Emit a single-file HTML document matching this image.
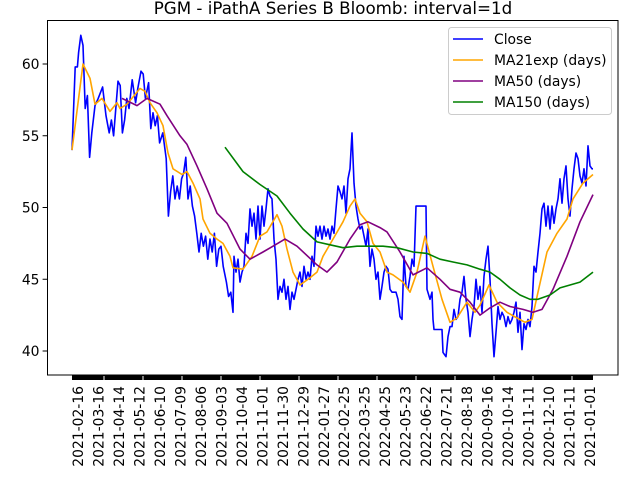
<!DOCTYPE html>
<html><head><meta charset="utf-8"><style>
body{margin:0;background:#fff;}
svg{display:block;font-family:"DejaVu Sans","Liberation Sans",sans-serif;}
</style></head><body>
<svg id="chart" width="640" height="480" viewBox="0 0 640 480"></svg>
<script>
// ---- data ----
const closeT1 = [0,1.6,2.7,3.3,4.4,5.5,6.6,7.7,8.8,9.9,11.5,13.1,15.3,17.0,18.6,19.7,20.8,21.9,23.0,24.1,25.2,26.3,27.4,28.5,30.1,31.8,32.9,34.5,35.6,36.7,38.3,39.4,40.5,41.6,42.7,43.8,45.4,47.1,48.2,49.3,50.4,51.5,52.6,53.7,54.8,55.8,56.9,58.0,59.1,60.2,61.3,62.4,63.5,64.6,65.7,66.8,67.9,69.0,70.1,71.2,72.3,73.4,74.5,75.6,77.2,78.3,79.4,80.5];
const closeV1 = [54.0,59.8,59.8,60.8,62.0,61.3,56.9,57.8,53.5,55.2,57.1,57.6,58.4,56.4,55.2,56.1,55.0,56.9,58.8,58.5,55.2,56.1,57.6,56.9,58.9,57.3,58.3,59.5,59.3,57.6,58.7,55.5,56.6,55.7,56.4,54.5,55.2,53.4,49.4,51.1,52.2,50.6,51.5,50.6,52.0,52.4,53.5,50.6,51.5,50.1,49.4,48.2,46.9,48.2,47.3,48.0,46.4,47.8,46.9,48.2,45.9,47.1,47.3,45.9,44.8,43.8,44.1,42.7];
const closeV2 = [46.6,45.5,46.4,44.8,45.5,45.9,48.2,47.5,49.9,48.7,49.6,47.8,50.1,47.8,50.1,48.7,49.9,51.3,50.8,50.6,47.8,46.4,43.6,44.5,44.1,45.0,43.6,44.5,42.9,44.1,43.6,44.3,45.0,45.5,44.5,45.9,45.0,45.5,45.0,46.6,45.9,48.7,48.0,48.7,47.8,48.7,48.0,48.5,47.8,48.7,48.2,49.9,51.5,51.1,50.6,51.5,49.6,52.0,52.7,55.2,51.7,50.1,49.2,48.5,48.7,48.0,47.3,48.5,45.9,47.1,46.4,45.0,45.5,43.6,44.5,45.5,45.9,45.7,44.3,44.1];
const closeT3 = [162,163,164,165,166,167,168,169,170,171,172,177,177.5,179,180,180.5,181,185,185.5,187,188];
const closeV3 = [44.1,43.6,42.4,42.2,46.6,44.5,44.3,45.2,46.4,45.9,50.1,50.1,44.3,43.6,44.1,42.2,41.5,41.5,39.9,39.6,41.0];
const closeV4 = [41.7,41.7,42.9,42.2,42.4,43.6,44.1,45.2,43.6,42.7,41.0,42.2,43.1,45.0,43.6,44.5,42.7,45.2,46.4,47.3,45.0,41.9,39.6,41.3,43.1,42.2,42.7,42.4,41.7,42.4,41.9,42.2,42.7,43.4,41.3,42.7,40.1,41.9,41.5,42.2,41.7,43.1,45.9,45.5,46.9,48.2,49.9,50.3,48.7,50.1,48.5,50.1,48.9,49.9,50.6,52.0,50.3,52.0,52.9,50.6,49.4,51.3,52.7,53.8,53.4,52.2,51.7,52.7,51.5,54.3,52.9,52.7,52.7];
const ma21T = [0,5.5,9,11.5,15,19,22.5,24,27.5,30.5,34,36.5,39,42.5,45.5,48,50.5,55,57.5,60.5,64,65.5,69,72.5,75.5,79,80.5,85.5,90,94,97.5,102.5,105,107.5,110.5,114,119,122.5,125.5,130.5,135.5,139,141.5,144,147.5,150.5,154,157.5,160.5,165.5,169,172.5,176.5,180.5,185,189,192.5,197.5,201.5,204,208.5,212.5,217.5,222.5,226.5,230,233,237.5,242.5,247.5,250.5,255.5,260.5];
const ma21V = [54.0,60.0,59.0,57.2,57.6,56.7,57.3,56.9,57.2,57.7,58.3,58.1,57.3,56.6,55.7,53.8,52.7,52.3,52.5,51.7,50.6,49.2,48.2,47.8,47.5,46.6,45.8,45.7,46.6,48.0,48.3,49.5,48.7,47.1,45.5,44.6,45.1,45.5,46.6,47.8,49.0,50.1,50.6,49.6,49.0,47.5,46.9,45.5,45.3,44.8,44.1,45.5,48.0,45.9,43.6,42.0,42.3,43.4,42.7,43.2,44.6,43.4,42.7,42.3,42.0,42.2,44.1,46.9,48.2,49.2,50.6,51.7,52.3];
const ma50T = [25,32.5,37.5,44,47.5,54,57.5,62.5,67.5,72.5,77.5,84,89,95.5,100.5,106.5,112.5,122.5,127.5,132.5,139,144,148,154,157.5,164,170.5,177.5,184,189,194,199,204,209,214,219,225.5,230.5,235,240.5,247.5,254,260.5];
const ma50V = [57.6,57.1,57.6,57.2,56.4,55.0,54.4,52.9,51.3,49.6,48.9,47.1,46.4,46.9,47.3,47.8,47.3,46.0,45.5,46.2,47.8,48.8,49.0,48.6,48.3,46.9,45.3,45.8,45.0,44.3,44.1,43.4,42.5,43.0,43.4,43.1,42.9,42.7,42.9,44.3,46.6,49.0,50.9];
const ma150T = [76.5,85.5,94,102.5,109,115.5,122.5,129,135.5,142.5,149,155.5,162.5,170.5,177.5,184,190.5,197.5,204,209,214,219,224,229,233,239,244,249,254,260.5];
const ma150V = [54.2,52.5,51.6,50.8,49.6,48.5,47.6,47.4,47.2,47.3,47.3,47.3,47.2,46.9,46.8,46.4,46.2,46.0,45.7,45.5,45.0,44.4,43.9,43.6,43.6,43.9,44.4,44.6,44.8,45.5];
const yTicks = [40,45,50,55,60];
const xTickLabels = ["2021-02-16","2021-03-16","2021-04-14","2021-05-12","2021-06-10","2021-07-09","2021-08-06","2021-09-03","2021-10-04","2021-11-01","2021-11-30","2021-12-29","2022-01-27","2022-02-25","2022-03-25","2022-04-25","2022-05-23","2022-06-22","2022-07-21","2022-08-18","2020-09-16","2020-10-14","2020-11-11","2020-12-10","2021-01-11","2021-01-01"];
const closeT2 = []; for (let i = 81; i <= 160; i++) closeT2.push(i);
const closeT4 = []; for (let i = 189; i <= 260; i++) closeT4.push(i); closeT4.push(260.5);
const closeT = closeT1.concat(closeT2, closeT3, closeT4);
const closeV = closeV1.concat(closeV2, closeV3, closeV4);

// ---- axes ----
const AX = {l:47.5, r:618, t:20.5, b:375};
const xS = t => 72 + t * 2;
const yS = v => 64 + (60 - v) * 14.35;
const NS = "http://www.w3.org/2000/svg";
const svg = document.getElementById('chart');
function mk(tag, attrs, parent) {
  const e = document.createElementNS(NS, tag);
  for (const k in attrs) e.setAttribute(k, attrs[k]);
  (parent || svg).appendChild(e);
  return e;
}
const title = mk('text', {x: 333, y: 14, 'text-anchor': 'middle', 'font-size': '16.7'});
title.textContent = 'PGM - iPathA Series B Bloomb: interval=1d';



const clip = mk('clipPath', {id: 'plotclip'});
mk('rect', {x: AX.l, y: AX.t, width: AX.r - AX.l, height: AX.b - AX.t}, clip);

function line(T, V, color, name) {
  let d = '';
  for (let i = 0; i < T.length; i++) d += (i ? 'L' : 'M') + xS(T[i]).toFixed(1) + ' ' + yS(V[i]).toFixed(1);
  const p = mk('path', {d: d, fill: 'none', stroke: color, 'stroke-width': 1.6, 'stroke-linejoin': 'round', 'clip-path': 'url(#plotclip)'});
  
  
}
line(closeT, closeV, '#0000ff', 'close-line');
line(ma21T, ma21V, '#ffa500', 'ma21exp-line');
line(ma50T, ma50V, '#800080', 'ma50-line');
line(ma150T, ma150V, '#008000', 'ma150-line');

const frame = mk('rect', {x: AX.l, y: AX.t, width: AX.r - AX.l, height: AX.b - AX.t, fill: 'none', stroke: '#000', 'stroke-width': 1});



// y ticks
yTicks.forEach(v => {
  const y = yS(v);
  const tk = mk('line', {x1: AX.l - 4.9, x2: AX.l, y1: y, y2: y, stroke: '#000', 'stroke-width': 1});
  
  
  const tx = mk('text', {x: AX.l - 8, y: y + 5, 'text-anchor': 'end', 'font-size': '13.9'});
  tx.textContent = v;
  
  
});

// dense x tick bar
const bar = mk('rect', {x: xS(0), y: AX.b, width: xS(260.5) - xS(0), height: 5, fill: '#000'});


for (let i = 0; i < 13; i++) {
  const gx = 104 + i * 39;
  mk('line', {x1: gx, x2: gx, y1: AX.b + 1, y2: AX.b + 5, stroke: '#fff', 'stroke-width': 1});
}
xTickLabels.forEach((lab, i) => {
  const x = xS(3 + i * 10.24);
  const tx = mk('text', {x: 0, y: 0, 'text-anchor': 'end', 'font-size': '13.9', transform: 'translate(' + (x + 5) + ',386) rotate(-90)'});
  tx.textContent = lab;
  
  
});

// legend
const lg = mk('g', {});


mk('rect', {x: 448.5, y: 27.5, width: 163, height: 87, rx: 3, fill: '#fff', 'fill-opacity': 0.8, stroke: '#ccc', 'stroke-width': 1}, lg);
const legNames = ['Close', 'MA21exp (days)', 'MA50 (days)', 'MA150 (days)'];
const legColors = ['#0000ff', '#ffa500', '#800080', '#008000'];
legNames.forEach((n, i) => {
  const y = 39 + i * 21;
  const g = mk('g', {}, lg);
  
  
  mk('line', {x1: 453, x2: 483, y1: y, y2: y, stroke: legColors[i], 'stroke-width': 1.6}, g);
  const t = mk('text', {x: 494, y: y + 5, 'font-size': '13.9'}, g);
  t.textContent = n;
});
</script>
</body></html>
